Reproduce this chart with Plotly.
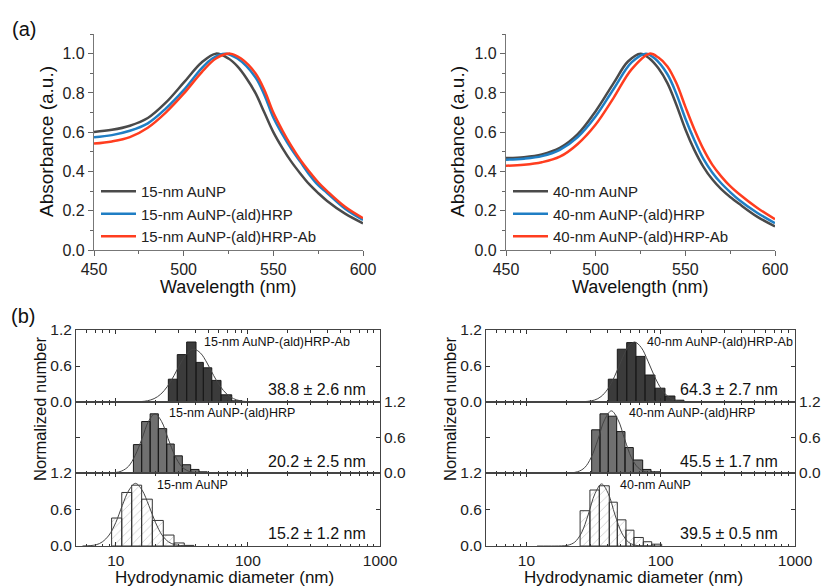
import math
import plotly.graph_objects as go

# UV-vis spectra, 15 nm particles
wl_15_np = [450, 460, 470, 480, 490, 500, 510, 518, 525, 530, 535, 540, 545, 550, 555, 560, 565, 570, 575, 580, 590, 600]
abs_15_np = [0.601, 0.612, 0.633, 0.672, 0.75, 0.852, 0.955, 1.0, 0.975, 0.935, 0.875, 0.80, 0.70, 0.60, 0.52, 0.45, 0.39, 0.335, 0.29, 0.25, 0.185, 0.136]
wl_15_hrp = [450, 460, 470, 480, 490, 500, 510, 516, 523, 530, 540, 545, 550, 555, 560, 565, 570, 575, 580, 590, 600]
abs_15_hrp = [0.574, 0.585, 0.607, 0.645, 0.72, 0.814, 0.925, 0.975, 1.0, 0.975, 0.88, 0.79, 0.675, 0.59, 0.515, 0.45, 0.385, 0.33, 0.29, 0.21, 0.153]
wl_15_ab = [450, 460, 470, 480, 490, 500, 510, 518, 526, 532, 540, 545, 550, 555, 560, 565, 570, 575, 580, 590, 600]
abs_15_ab = [0.542, 0.553, 0.575, 0.623, 0.70, 0.796, 0.905, 0.975, 1.0, 0.975, 0.90, 0.815, 0.70, 0.61, 0.53, 0.46, 0.40, 0.345, 0.30, 0.22, 0.162]

# UV-vis spectra, 40 nm particles
wl_40_np = [450, 460, 470, 480, 490, 500, 510, 518, 525, 530, 535, 540, 545, 550, 555, 560, 565, 570, 575, 580, 590, 600]
abs_40_np = [0.468, 0.473, 0.487, 0.52, 0.59, 0.707, 0.85, 0.96, 1.0, 0.975, 0.925, 0.85, 0.74, 0.615, 0.51, 0.425, 0.36, 0.31, 0.27, 0.235, 0.17, 0.12]
wl_40_hrp = [450, 460, 470, 480, 490, 500, 510, 520, 528, 533, 540, 545, 550, 555, 560, 565, 570, 575, 580, 590, 600]
abs_40_hrp = [0.46, 0.465, 0.478, 0.51, 0.575, 0.681, 0.82, 0.955, 1.0, 0.975, 0.895, 0.795, 0.67, 0.56, 0.465, 0.395, 0.34, 0.295, 0.255, 0.19, 0.137]
wl_40_ab = [450, 460, 470, 480, 490, 500, 510, 520, 530, 535, 540, 545, 550, 555, 560, 565, 570, 575, 580, 590, 600]
abs_40_ab = [0.429, 0.434, 0.447, 0.475, 0.54, 0.639, 0.775, 0.92, 1.0, 0.98, 0.935, 0.85, 0.73, 0.615, 0.515, 0.435, 0.375, 0.325, 0.285, 0.215, 0.157]

# DLS histograms (bin edges in nm, normalized counts)
h15_ab_edges = [25.0, 29.2, 34.4, 40.5, 46.0, 53.3, 62.6, 75.5, 89.8]
h15_ab_counts = [0.38, 0.79, 1.0, 0.66, 0.57, 0.36, 0.12, 0.02]
h15_hrp_edges = [13.6, 15.7, 18.2, 21.0, 24.3, 27.7, 31.9, 36.9, 42.7, 49.3]
h15_hrp_counts = [0.48, 0.87, 1.0, 0.75, 0.49, 0.29, 0.14, 0.06, 0.02]
h15_np_edges = [9.3, 11.1, 13.2, 15.7, 18.9, 22.9, 27.6, 33.0, 39.0]
h15_np_counts = [0.46, 0.88, 1.0, 0.77, 0.42, 0.18, 0.05, 0.01]

h40_ab_edges = [40.7, 47.5, 55.8, 65.4, 76.4, 90.6, 107.6, 127.6, 149.0]
h40_ab_counts = [0.38, 0.88, 0.99, 0.76, 0.45, 0.23, 0.10, 0.03]
h40_hrp_edges = [30.6, 35.3, 40.7, 47.0, 54.2, 62.5, 73.4, 84.7, 98.8]
h40_hrp_counts = [0.73, 1.0, 0.96, 0.70, 0.43, 0.22, 0.06, 0.02]
h40_np_edges = [25.1, 29.7, 34.9, 41.4, 47.5, 55.1, 63.2, 74.2, 85.7, 101.7]
h40_np_counts = [0.58, 0.92, 0.99, 0.72, 0.43, 0.26, 0.14, 0.07, 0.03]

# fitted curves
fit15_ab_d = [12.3, 15.5, 17.4, 19.5, 21.9, 24.6, 27.6, 31.0, 34.8, 39.0, 43.8, 49.1, 55.1, 61.8, 69.4, 77.8, 87.3, 98.0, 123]
fit15_ab_y = [0.0, 0.007, 0.021, 0.056, 0.13, 0.26, 0.44, 0.65, 0.815, 0.88, 0.815, 0.65, 0.44, 0.26, 0.13, 0.056, 0.021, 0.007, 0.0]
fit15_hrp_d = [7.9, 9.9, 11.1, 12.5, 14.0, 15.8, 17.7, 19.8, 22.2, 24.9, 28.0, 31.4, 35.2, 39.5, 49.7]
fit15_hrp_y = [0.0, 0.008, 0.034, 0.114, 0.295, 0.581, 0.873, 1.0, 0.873, 0.581, 0.295, 0.114, 0.034, 0.008, 0.0]
fit15_np_d = [5.6, 7.1, 7.9, 8.9, 10.0, 11.2, 12.6, 14.1, 15.8, 17.8, 20.0, 22.4, 25.1, 28.2, 35.5]
fit15_np_y = [0.001, 0.02, 0.067, 0.18, 0.385, 0.665, 0.92, 1.03, 0.92, 0.665, 0.385, 0.18, 0.067, 0.02, 0.001]

fit40_ab_d = [20.2, 25.4, 32.0, 35.9, 40.3, 45.2, 50.7, 56.9, 63.8, 71.6, 80.4, 90.2, 101.2, 113.5, 127.4, 160.3, 202]
fit40_ab_y = [0.0, 0.002, 0.031, 0.09, 0.215, 0.42, 0.68, 0.908, 1.0, 0.908, 0.68, 0.42, 0.215, 0.09, 0.031, 0.002, 0.0]
fit40_hrp_d = [12, 17.1, 21.5, 24.1, 27.1, 30.3, 34.1, 38.2, 42.9, 48.1, 54.0, 60.5, 67.9, 76.2, 85.5, 107.6]
fit40_hrp_y = [0.0, 0.0, 0.004, 0.022, 0.089, 0.26, 0.567, 0.90, 1.05, 0.90, 0.567, 0.26, 0.089, 0.022, 0.004, 0.0]
fit40_np_d = [12, 14.5, 18.2, 20.4, 22.9, 25.7, 28.8, 32.4, 36.3, 40.7, 45.7, 51.3, 57.5, 64.6, 72.4, 91.2]
fit40_np_y = [0.0, 0.0, 0.002, 0.013, 0.064, 0.215, 0.51, 0.86, 1.02, 0.86, 0.51, 0.215, 0.064, 0.013, 0.002, 0.0]

W, H = 821, 588
FONT = "Liberation Sans, Arial, sans-serif"


def X(px):
    return px / W


def Y(py):
    return 1 - py / H


def bars(edges, counts):
    xs, ys = [], []
    for i, c in enumerate(counts):
        l, r = edges[i], edges[i + 1]
        xs += [l, l, r, r, l, None]
        ys += [0, c, c, 0, 0, None]
    return xs, ys


fig = go.Figure()

# --- (a) spectra ---
spec = [
    (wl_15_np, abs_15_np, "15-nm AuNP", "#4a4a4a", 1, "legend"),
    (wl_15_hrp, abs_15_hrp, "15-nm AuNP-(ald)HRP", "#1f7ec4", 1, "legend"),
    (wl_15_ab, abs_15_ab, "15-nm AuNP-(ald)HRP-Ab", "#ff3d1f", 1, "legend"),
    (wl_40_np, abs_40_np, "40-nm AuNP", "#4a4a4a", 2, "legend2"),
    (wl_40_hrp, abs_40_hrp, "40-nm AuNP-(ald)HRP", "#1f7ec4", 2, "legend2"),
    (wl_40_ab, abs_40_ab, "40-nm AuNP-(ald)HRP-Ab", "#ff3d1f", 2, "legend2"),
]
for wl, ab, name, col, k, leg in spec:
    fig.add_trace(go.Scatter(x=wl, y=ab, name=name, mode="lines", line=dict(color=col, width=2.5, shape="spline"),
                             xaxis="x" if k == 1 else "x2", yaxis="y" if k == 1 else "y2", legend=leg))

# --- (b) histograms ---
hists = [
    (h15_ab_edges, h15_ab_counts, fit15_ab_d, fit15_ab_y, 3, "dark"),
    (h15_hrp_edges, h15_hrp_counts, fit15_hrp_d, fit15_hrp_y, 4, "mid"),
    (h15_np_edges, h15_np_counts, fit15_np_d, fit15_np_y, 5, "hatch"),
    (h40_ab_edges, h40_ab_counts, fit40_ab_d, fit40_ab_y, 6, "dark"),
    (h40_hrp_edges, h40_hrp_counts, fit40_hrp_d, fit40_hrp_y, 7, "mid"),
    (h40_np_edges, h40_np_counts, fit40_np_d, fit40_np_y, 8, "hatch"),
]
for edges, counts, fd, fy, k, style in hists:
    bx, by = bars(edges, counts)
    kw = dict(x=bx, y=by, mode="lines", fill="toself", showlegend=False, hoverinfo="skip",
              xaxis=f"x{k}", yaxis=f"y{k}", line=dict(color="#1a1a1a", width=1))
    if style == "dark":
        kw["fillcolor"] = "#3b3b3b"
    elif style == "mid":
        kw["fillcolor"] = "#707070"
    else:
        kw["fillcolor"] = "white"
        kw["fillpattern"] = dict(shape="/", fgcolor="#8a8a8a", bgcolor="white", size=6, solidity=0.12)
        kw["line"] = dict(color="#333333", width=1)
    fig.add_trace(go.Scatter(**kw))
    fig.add_trace(go.Scatter(x=fd, y=fy, mode="lines", showlegend=False, hoverinfo="skip",
                             line=dict(color="#444444", width=1, shape="spline"),
                             xaxis=f"x{k}", yaxis=f"y{k}"))

tickfont = dict(family=FONT, size=16, color="#222")
htickfont = dict(family=FONT, size=15.5, color="#222")

spec_x = dict(range=[450, 600], dtick=50, ticks="outside", ticklen=5, tickcolor="#666",
              showline=True, linecolor="#777", linewidth=1.2, showgrid=False, zeroline=False,
              automargin=False, minor=dict(dtick=25, ticks="outside", ticklen=3, tickcolor="#666"),
              tickfont=tickfont)
spec_y = dict(range=[0, 1.1], dtick=0.2, tickformat=".1f", ticks="outside", ticklen=5, tickcolor="#666",
              showline=True, linecolor="#777", linewidth=1.2, showgrid=False, zeroline=False,
              automargin=False, minor=dict(dtick=0.1, ticks="outside", ticklen=3, tickcolor="#666"),
              tickfont=tickfont)

minor_vals = [m * 10 ** e for e in (0, 1, 2) for m in range(2, 10) if 5 < m * 10 ** e < 1000]


def hist_x(domain, labels):
    return dict(type="log", range=[math.log10(5), 3], domain=domain, tickvals=[10, 100, 1000],
                ticktext=["10", "100", "1000"], showticklabels=labels, ticks="inside", ticklen=4,
                tickcolor="#333", showline=True, linecolor="#444", linewidth=1, mirror="ticks",
                showgrid=False, zeroline=False, tickfont=htickfont, automargin=False,
                minor=dict(tickvals=minor_vals, ticks="inside", ticklen=2.5, tickcolor="#333"))


def hist_y(domain, anchor, side):
    return dict(range=[0, 1.2], domain=domain, anchor=anchor, side=side, tickvals=[0, 0.6, 1.2],
                ticktext=["0.0", "0.6", "1.2"], ticks="inside", ticklen=4, tickcolor="#333",
                showline=True, linecolor="#444", linewidth=1, mirror="ticks", showgrid=False,
                zeroline=False, tickfont=htickfont, automargin=False)


lx = [X(76), X(380)]
rx = [X(486), X(795)]
pan = [[Y(402), Y(330)], [Y(473), Y(402)], [Y(546), Y(473)]]

layout = dict(
    width=W, height=H, margin=dict(l=0, r=0, t=0, b=0, autoexpand=False),
    paper_bgcolor="white", plot_bgcolor="white",
    font=dict(family=FONT, color="#222"),
    xaxis=dict(spec_x, domain=[X(94), X(363)], anchor="y"),
    yaxis=dict(spec_y, domain=[Y(250), Y(34)], anchor="x"),
    xaxis2=dict(spec_x, domain=[X(506), X(775)], anchor="y2"),
    yaxis2=dict(spec_y, domain=[Y(250), Y(34)], anchor="x2"),
    legend=dict(x=X(96), y=Y(175), xanchor="left", yanchor="top", bgcolor="rgba(0,0,0,0)",
                font=dict(family=FONT, size=15, color="#222"), tracegroupgap=0, itemwidth=35),
    legend2=dict(x=X(508), y=Y(175), xanchor="left", yanchor="top", bgcolor="rgba(0,0,0,0)",
                 font=dict(family=FONT, size=15, color="#222"), tracegroupgap=0, itemwidth=35),
)
for i, k in enumerate([3, 4, 5]):
    layout[f"xaxis{k}"] = dict(hist_x(lx, k == 5), anchor=f"y{k}")
    layout[f"yaxis{k}"] = hist_y(pan[i], f"x{k}", "right" if k == 4 else "left")
for i, k in enumerate([6, 7, 8]):
    layout[f"xaxis{k}"] = dict(hist_x(rx, k == 8), anchor=f"y{k}")
    layout[f"yaxis{k}"] = hist_y(pan[i], f"x{k}", "right" if k == 7 else "left")
fig.update_layout(**layout)


def note(text, px, py, size=15, angle=0, xanchor="center"):
    fig.add_annotation(text=text, x=X(px), y=Y(py), xref="paper", yref="paper", showarrow=False,
                       textangle=angle, xanchor=xanchor, yanchor="middle",
                       font=dict(family=FONT, size=size, color="#111"))


note("(a)", 10, 29, size=20, xanchor="left")
note("(b)", 9, 316, size=20, xanchor="left")
note("Absorbance (a.u.)", 47, 142, size=19, angle=-90)
note("Absorbance (a.u.)", 458, 142, size=19, angle=-90)
note("Wavelength (nm)", 228, 287, size=18)
note("Wavelength (nm)", 640, 287, size=18)
note("Normalized number", 40, 409, size=16.5, angle=-90)
note("Normalized number", 450, 409, size=16.5, angle=-90)
note("Hydrodynamic diameter (nm)", 224, 577, size=17)
note("Hydrodynamic diameter (nm)", 633, 577, size=17)

note("15-nm AuNP-(ald)HRP-Ab", 202, 342, size=12.5, xanchor="left")
note("15-nm AuNP-(ald)HRP", 167, 413, size=12.5, xanchor="left")
note("15-nm AuNP", 155, 485, size=12.5, xanchor="left")
note("38.8 \u00b1 2.6 nm", 368, 389, size=16, xanchor="right")
note("20.2 \u00b1 2.5 nm", 368, 461, size=16, xanchor="right")
note("15.2 \u00b1 1.2 nm", 368, 533, size=16, xanchor="right")

note("40-nm AuNP-(ald)HRP-Ab", 645, 342, size=12.5, xanchor="left")
note("40-nm AuNP-(ald)HRP", 627, 413, size=12.5, xanchor="left")
note("40-nm AuNP", 618, 485, size=12.5, xanchor="left")
note("64.3 \u00b1 2.7 nm", 780, 389, size=16, xanchor="right")
note("45.5 \u00b1 1.7 nm", 780, 461, size=16, xanchor="right")
note("39.5 \u00b1 0.5 nm", 780, 533, size=16, xanchor="right")

fig.write_html("out.html", config={"displayModeBar": False},
               post_script="document.body.style.margin='0px';")
